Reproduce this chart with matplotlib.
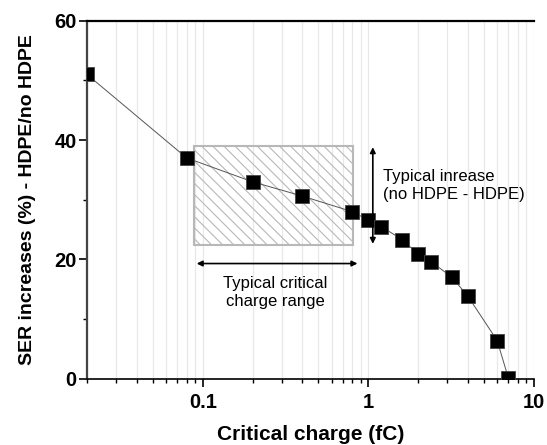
import matplotlib
matplotlib.use("Agg")
import matplotlib.pyplot as plt
from matplotlib.patches import Rectangle
import matplotlib.ticker as mticker

plt.rcParams['font.family'] = ['Liberation Sans', 'DejaVu Sans']
plt.rcParams['hatch.color'] = '#a8a8a8'
plt.rcParams['hatch.linewidth'] = 0.8

# data
charge_fc = [0.02, 0.08, 0.2, 0.4, 0.8, 1.0, 1.2, 1.6, 2.0, 2.4, 3.2, 4.0, 6.0, 7.0]
ser_increase = [51.0, 37.0, 33.0, 30.6, 28.0, 26.6, 25.5, 23.3, 20.9, 19.6, 17.0, 13.8, 6.4, 0.2]

range_box_x = [0.088, 0.81]
range_box_y = [22.4, 39.0]
h_arrow_x = [0.092, 0.86]
h_arrow_y = 19.3
v_arrow_x = 1.065
v_arrow_y = [22.6, 38.8]

fig = plt.figure(figsize=(5.47, 4.45), dpi=100)
ax = fig.add_axes([0.159, 0.149, 0.817, 0.8045])

ax.set_xscale('log')
ax.set_xlim(0.02, 10)
ax.set_ylim(0, 60)

ax.grid(True, which='both', axis='x', color='#e8e8e8', linewidth=0.9)
ax.set_axisbelow(True)

ax.add_patch(Rectangle((range_box_x[0], range_box_y[0]),
                       range_box_x[1] - range_box_x[0],
                       range_box_y[1] - range_box_y[0],
                       facecolor='none', edgecolor='#b8b8b8', linewidth=1.5,
                       hatch='\\\\\\', zorder=1.5))

ax.plot(charge_fc, ser_increase, color='#555555', linewidth=0.7,
        marker='s', markersize=10, markerfacecolor='black',
        markeredgecolor='#444444', markeredgewidth=0.6, zorder=3)

ax.annotate('', xy=(h_arrow_x[0], h_arrow_y), xytext=(h_arrow_x[1], h_arrow_y),
            arrowprops=dict(arrowstyle='<|-|>', color='black', lw=1.2,
                            mutation_scale=8, shrinkA=0, shrinkB=0))
ax.annotate('', xy=(v_arrow_x, v_arrow_y[0]), xytext=(v_arrow_x, v_arrow_y[1]),
            arrowprops=dict(arrowstyle='<|-|>', color='black', lw=1.2,
                            mutation_scale=8, shrinkA=0, shrinkB=0))

ax.text(0.275, 14.5, 'Typical critical\ncharge range', ha='center', va='center',
        fontsize=12, linespacing=1.25)
ax.text(1.23, 32.4, 'Typical inrease\n(no HDPE - HDPE)', ha='left', va='center',
        fontsize=12, linespacing=1.25)

ax.set_xticks([0.1, 1, 10])
ax.xaxis.set_major_formatter(mticker.FuncFormatter(lambda v, p: f'{v:g}'))
ax.xaxis.set_minor_locator(mticker.LogLocator(base=10, subs=range(2, 10)))
ax.xaxis.set_minor_formatter(mticker.NullFormatter())
ax.set_yticks([0, 20, 40, 60])
ax.yaxis.set_minor_locator(mticker.MultipleLocator(10))

ax.tick_params(axis='both', which='major', direction='out', length=5.5, width=1.2,
               labelsize=14.5)
ax.tick_params(axis='x', which='major', pad=5)
ax.tick_params(axis='y', which='major', pad=2)
ax.tick_params(axis='both', which='minor', direction='out', length=3, width=1.0)
for lab in ax.get_xticklabels() + ax.get_yticklabels():
    lab.set_fontweight('bold')

ax.spines['right'].set_visible(False)
ax.spines['left'].set_color('#444444')
ax.spines['left'].set_linewidth(1.6)
ax.spines['bottom'].set_linewidth(1.2)
ax.spines['top'].set_linewidth(1.6)

ax.set_xlabel('Critical charge (fC)', fontsize=15, fontweight='bold', labelpad=9)
ax.set_ylabel('SER increases (%) - HDPE/no HDPE', fontsize=14, fontweight='bold',
              labelpad=13)

fig.savefig('out.png', dpi=100)
